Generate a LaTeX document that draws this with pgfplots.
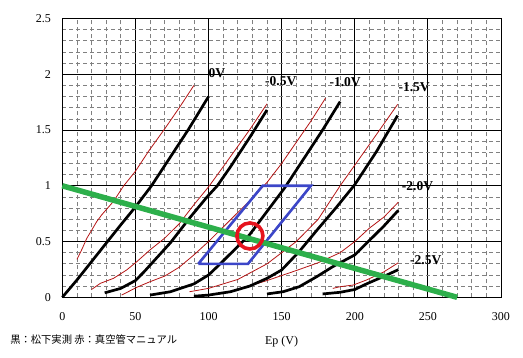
\documentclass[border=0pt]{standalone}
\usepackage{pgfplots}
\pgfplotsset{compat=1.18}
\usepackage{fontspec}
\setmainfont{Liberation Serif}
\newfontfamily\cjk{Noto Sans CJK JP}
\definecolor{curvered}{RGB}{180,20,20}
\definecolor{loadgreen}{RGB}{45,175,75}
\definecolor{boxblue}{RGB}{60,70,200}
\definecolor{circred}{RGB}{230,20,30}
\begin{document}
\begin{tikzpicture}
\useasboundingbox (-62.3pt,-59.7pt) rectangle (460.7pt,297.3pt);
\begin{axis}[
  scale only axis, width=438.7pt, height=278.8pt,
  at={(0pt,0pt)}, anchor=south west,
  xmin=0,xmax=300,ymin=0,ymax=2.5,
  xtick={0,50,...,300}, ytick={0,0.5,1,1.5,2,2.5},
  minor x tick num=4, minor y tick num=4,
  grid=both,
  major grid style={black, line width=0.8pt},
  minor grid style={gray, dash pattern=on 4pt off 3pt, line width=0.7pt},
  major tick length=0pt, minor tick length=0pt,
  axis line style={black, line width=0.8pt},
  tick label style={font=\fontsize{12}{14}\selectfont},
  /pgf/number format/assume math mode=true,
  xticklabel style={yshift=-12pt},
  yticklabel style={xshift=-8pt},
  xlabel={Ep (V)},
  xlabel style={font=\fontsize{12}{14}\selectfont, at={(axis description cs:0.5,-0.159)}, anchor=center},
  clip=false,
]
% red (manual) curves
\addplot[curvered, line width=0.8pt] coordinates {(10,0.34)(13.4,0.43)(16.8,0.53)(20,0.6)(23.6,0.68)(27,0.74)(35,0.86)(42,1.0)(50,1.13)(59,1.31)(70,1.51)(80,1.70)(90,1.90)};
\addplot[curvered, line width=0.8pt] coordinates {(20,0.07)(26,0.125)(35,0.17)(44,0.245)(51,0.32)(60,0.425)(70,0.53)(80,0.66)(90,0.83)(100,0.99)(110,1.17)(128,1.5)(140,1.735)};
\addplot[curvered, line width=0.8pt] coordinates {(40.6,0.02)(51,0.09)(60,0.14)(70,0.19)(80,0.27)(90,0.38)(100,0.5)(110,0.63)(120,0.76)(130,0.89)(140,1.03)(150,1.2)(160,1.39)(170,1.58)(180,1.786)};
\addplot[curvered, line width=0.8pt] coordinates {(87,0.05)(100,0.08)(120,0.16)(140,0.3)(160,0.5)(175,0.7)(190,1.0)(210,1.37)(229.3,1.73)};
\addplot[curvered, line width=0.8pt] coordinates {(115,0.05)(140,0.15)(160,0.24)(175,0.31)(190,0.40)(200,0.5)(210,0.62)(220,0.72)(229.8,0.853)};
\addplot[curvered, line width=0.8pt] coordinates {(185,0.08)(190,0.095)(199,0.11)(208,0.155)(219.5,0.225)(229.8,0.31)};
% black (measured) curves
\addplot[black, line width=2.7pt] coordinates {(0,0)(10,0.155)(20,0.32)(30,0.485)(40,0.65)(50,0.81)(61,1.0)(73,1.24)(86,1.5)(100,1.80)};
\addplot[black, line width=2.7pt] coordinates {(29,0.04)(40,0.08)(50,0.15)(56,0.23)(65,0.36)(74,0.49)(87,0.71)(99,0.9)(106,1.0)(115,1.17)(128,1.43)(140,1.68)};
\addplot[black, line width=2.7pt] coordinates {(60,0.02)(74,0.05)(90,0.12)(100,0.2)(108,0.3)(118,0.43)(128,0.56)(140,0.77)(152,0.98)(165,1.24)(178,1.5)(190,1.755)};
\addplot[black, line width=2.7pt] coordinates {(90,0.01)(100,0.02)(115,0.05)(128,0.1)(140,0.17)(150,0.245)(162,0.41)(174,0.6)(187,0.8)(200,1.01)(215,1.31)(229.3,1.63)};
\addplot[black, line width=2.7pt] coordinates {(140,0.03)(151,0.05)(162,0.095)(174,0.185)(185,0.275)(190,0.31)(200,0.38)(210,0.51)(220,0.64)(229.8,0.78)};
\addplot[black, line width=2.7pt] coordinates {(178,0.03)(190,0.045)(200,0.07)(208,0.12)(215,0.16)(222,0.2)(229.8,0.248)};
% operating region
\addplot[boxblue, line width=2.6pt, line join=miter] coordinates {(93,0.3)(127,0.3)(170,1.0)(137,1.0)(93,0.3)};
% load line
\addplot[loadgreen, line width=5.5pt] coordinates {(0,1.0)(270,0)};
% operating point
\addplot[only marks, mark=o, mark size=13pt, mark options={line width=3.6pt, draw=circred}] coordinates {(128.3,0.55)};
% labels
\begin{scope}[every node/.style={anchor=west, inner sep=0pt, font=\bfseries\fontsize{13.5}{15}\selectfont}]
\node at (axis cs:100,2.01) {0V};
\node at (axis cs:138.6,1.94) {-0.5V};
\node at (axis cs:182.6,1.93) {-1.0V};
\node at (axis cs:229.8,1.88) {-1.5V};
\node at (axis cs:232.1,0.993) {-2.0V};
\node at (axis cs:237.8,0.335) {-2.5V};
\end{scope}
\node[anchor=west, inner sep=0pt, font=\cjk\fontsize{10.3}{12}\selectfont] at (rel axis cs:-0.119,-0.153) {黒：松下実測 赤：真空管マニュアル};
\end{axis}
\end{tikzpicture}
\end{document}
